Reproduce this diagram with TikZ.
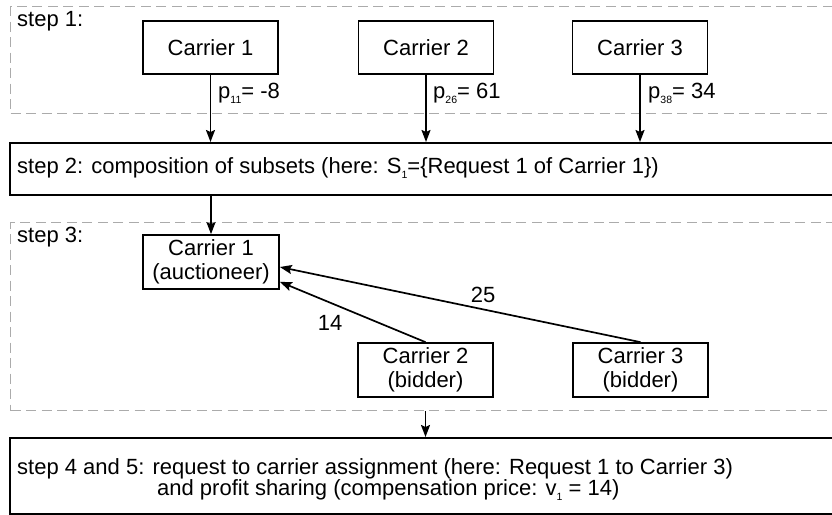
\documentclass[tikz,border=0pt]{standalone}
\usepackage{fontspec}
\setmainfont{Liberation Sans}
\usetikzlibrary{arrows.meta}
\newcommand\mysub[1]{\raisebox{-0.45ex}{\fontsize{10.5}{11}\selectfont #1}}
\tikzset{
  solidbox/.style={draw=black, line width=1.7pt, inner sep=0pt},
  dashbox/.style={draw=black!33, line width=1.3pt, dash pattern=on 10pt off 5.5pt, inner sep=0pt},
  carrier/.style={solidbox, minimum width=135pt, minimum height=53pt, align=center},
  conn/.style={line width=1.7pt, -{Stealth[length=12pt,width=9pt,inset=2pt]}},
  lbl/.style={inner sep=0pt, anchor=west},
}
\begin{document}
\begin{tikzpicture}[x=1pt,y=-1pt, font=\fontsize{22}{24}\selectfont]
\useasboundingbox (0,0) rectangle (832,514);
\clip (0,0) rectangle (832,514);
% step 1
\node[dashbox, anchor=north west, minimum width=900pt, minimum height=107pt] (d1) at (10,6) {};
\node[lbl] (t1) at (17,21) {step 1:};
\node[carrier] (c1) at (210.5,47.5) {Carrier 1};
\node[carrier] (c2) at (426,47.5) {Carrier 2};
\node[carrier] (c3) at (640,47.5) {Carrier 3};
% step 2
\node[solidbox, anchor=north west, minimum width=900pt, minimum height=52pt] (s2) at (9,142) {};
\node[lbl] (t2) at (17,168) {step 2: composition of subsets (here: S\mysub{1}=\{Request 1 of Carrier 1\})};
\draw[conn] (c1.south) -- (c1.south |- s2.north);
\draw[conn] (c2.south) -- (c2.south |- s2.north);
\draw[conn] (c3.south) -- (c3.south |- s2.north);
\node[lbl] (p1) at (218,93) {p\mysub{11}= -8};
\node[lbl] (p2) at (433,93) {p\mysub{26}= 61};
\node[lbl] (p3) at (648,93) {p\mysub{38}= 34};
% step 3
\node[dashbox, anchor=north west, minimum width=900pt, minimum height=188pt] (d3) at (10,222) {};
\node[lbl] (t3) at (17,237) {step 3:};
\node[carrier, minimum width=136pt, minimum height=54pt] (a1) at (211,262) {Carrier 1\\(auctioneer)};
\node[carrier, minimum height=54pt] (b2) at (425.5,370) {Carrier 2\\(bidder)};
\node[carrier, minimum height=54pt] (b3) at (640.5,370) {Carrier 3\\(bidder)};
\draw[conn] (s2.south -| a1.north) -- (a1.north);
\draw[conn] (b2.north) -- ([yshift=8pt]a1.south east);
\draw[conn] (b3.north) -- ([yshift=-5pt]a1.east);
\node[inner sep=0pt] (l14) at (330,323) {14};
\node[inner sep=0pt] (l25) at (483,295) {25};
% step 4 and 5
\node[solidbox, anchor=north west, minimum width=900pt, minimum height=76pt] (s4) at (9,437) {};
\draw[conn] (d3.south -| b2.north) -- (b2.north |- s4.north);
\node[lbl] (t4a) at (17,469) {step 4 and 5: request to carrier assignment (here: Request 1 to Carrier 3)};
\node[lbl] (t4b) at (157,490) {and profit sharing (compensation price: v\mysub{1} = 14)};
\end{tikzpicture}
\end{document}
